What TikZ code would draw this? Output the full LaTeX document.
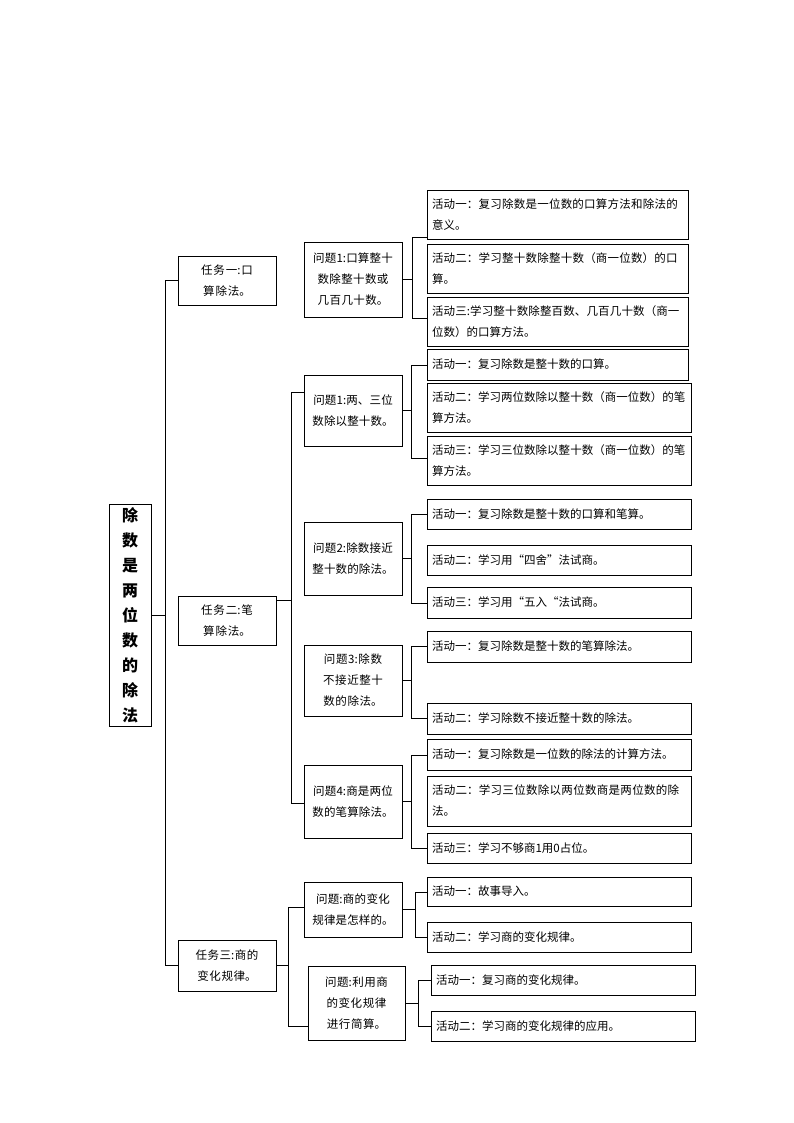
\documentclass[tikz,border=0pt]{standalone}
\usepackage{fontspec}
\setmainfont{Noto Sans CJK SC}
\XeTeXlinebreaklocale "zh"
\XeTeXlinebreakskip=0pt plus 1pt
\newcommand{\bx}[7]{% style, name, x1, y1, x2, y2, text
  \pgfmathsetmacro{\bw}{#5-#3}\pgfmathsetmacro{\bh}{#6-#4}\pgfmathsetmacro{\tw}{#5-#3-10}
  \node[#1, minimum width=\bw pt, minimum height=\bh pt, text width=\tw pt]
    (#2) at ({(#3+#5)/2},{(#4+#6)/2}) {#7};}
\begin{document}
\begin{tikzpicture}[x=1pt,y=-1pt,line width=0.8pt,
    box/.style={draw,inner sep=5pt,font=\fontsize{11.5}{21}\selectfont},
    qbox/.style={box,align=center},
    abox/.style={box,align=left}]
	\useasboundingbox (0,0) rectangle (794,1123);
	
	% root and tasks
	\node[draw,minimum width=42,minimum height=204,align=center,font=\fontsize{16}{25}\selectfont\bfseries]
	  (root) at (130,615) {除\\数\\是\\两\\位\\数\\的\\除\\法};
	\bx{qbox}{t1}{178}{256}{276}{305}{任务一:口算除法。}
	\bx{qbox}{t2}{178}{596}{276}{645}{任务二:笔算除法。}
	\bx{qbox}{t3}{178}{940}{276}{991}{任务三:商的变化规律。}
	
	% questions
	\bx{qbox}{q11}{304}{242}{402}{317}{问题1:口算整十数除整十数或几百几十数。}
	\bx{qbox}{q21}{304}{375}{402}{446}{问题1:两、三位数除以整十数。}
	\bx{qbox}{q22}{304}{522}{402}{595}{问题2:除数接近整十数的除法。}
	\bx{qbox}{q23}{304}{645}{402}{716}{问题3:除数不接近整十数的除法。}
	\bx{qbox}{q24}{304}{765}{402}{838}{问题4:商是两位数的笔算除法。}
	\bx{qbox}{q31}{304}{882}{402}{937}{问题:商的变化规律是怎样的。}
	\bx{qbox}{q32}{308}{966}{405}{1040}{问题:利用商的变化规律进行简算。}
	
	% activities
	\bx{abox}{a111}{427}{190}{688}{239}{活动一：复习除数是一位数的口算方法和除法的意义。}
	\bx{abox}{a112}{427}{244}{688}{293}{活动二：学习整十数除整十数（商一位数）的口算。}
	\bx{abox}{a113}{427}{297}{688}{346}{活动三:学习整十数除整百数、几百几十数（商一位数）的口算方法。}
	\bx{abox}{a211}{427}{349}{688}{380}{活动一：复习除数是整十数的口算。}
	\bx{abox}{a212}{427}{383}{691}{432}{活动二：学习两位数除以整十数（商一位数）的笔算方法。}
	\bx{abox}{a213}{427}{436}{691}{485}{活动三：学习三位数除以整十数（商一位数）的笔算方法。}
	\bx{abox}{a221}{427}{499}{691}{529}{活动一：复习除数是整十数的口算和笔算。}
	\bx{abox}{a222}{427}{545}{691}{575}{活动二：学习用“四舍”法试商。}
	\bx{abox}{a223}{427}{587}{691}{618}{活动三：学习用“五入“法试商。}
	\bx{abox}{a231}{427}{631}{691}{662}{活动一：复习除数是整十数的笔算除法。}
	\bx{abox}{a232}{427}{703}{691}{734}{活动二：学习除数不接近整十数的除法。}
	\bx{abox}{a241}{427}{739}{691}{770}{活动一：复习除数是一位数的除法的计算方法。}
	\bx{abox}{a242}{427}{776}{691}{826}{活动二：学习三位数除以两位数商是两位数的除法。}
	\bx{abox}{a243}{427}{833}{691}{863}{活动三：学习不够商1用0占位。}
	\bx{abox}{a311}{427}{877}{691}{906}{活动一：故事导入。}
	\bx{abox}{a312}{427}{922}{691}{952}{活动二：学习商的变化规律。}
	\bx{abox}{a321}{431}{965}{695}{995}{活动一：复习商的变化规律。}
	\bx{abox}{a322}{431}{1011}{695}{1041}{活动二：学习商的变化规律的应用。}
	
	% connectors
	\draw (root.east) -- ++(15,0);
	\draw (t1.west) -- ++(-12,0) |- (t3.west);
	\draw (t2.east |- 0,600) -- ++(16,0);
	\draw (q21.west |- 0,392) -- ++(-12,0) |- (q24.west |- 0,803);
	\draw (t3.east) -- ++(13,0);
	\draw (q31.west |- 0,907) -- ++(-15,0) |- (q32.west |- 0,1026);
	
	\draw (q11.east) -- ++(11,0);
	\draw (a111.west |- 0,237) -- ++(-14,0) |- (a113.west |- 0,318);
	\draw (q21.east) -- ++(10,0);
	\draw (a211.west |- 0,365) -- ++(-15,0) |- (a213.west |- 0,458);
	\draw (q22.east) -- ++(10,0);
	\draw (a221.west |- 0,514) -- ++(-15,0) |- (a223.west |- 0,603);
	\draw (q23.east) -- ++(10,0);
	\draw (a231.west |- 0,646) -- ++(-15,0) |- (a232.west |- 0,718);
	\draw (q24.east) -- ++(10,0);
	\draw (a241.west |- 0,755) -- ++(-15,0) |- (a243.west |- 0,848);
	\draw (q31.east) -- ++(14,0);
	\draw (a311.west |- 0,892) -- ++(-11,0) |- (a312.west |- 0,937);
	\draw (q32.east) -- ++(14,0);
	\draw (a321.west |- 0,980) -- ++(-12,0) |- (a322.west |- 0,1026);
\end{tikzpicture}
\end{document}
